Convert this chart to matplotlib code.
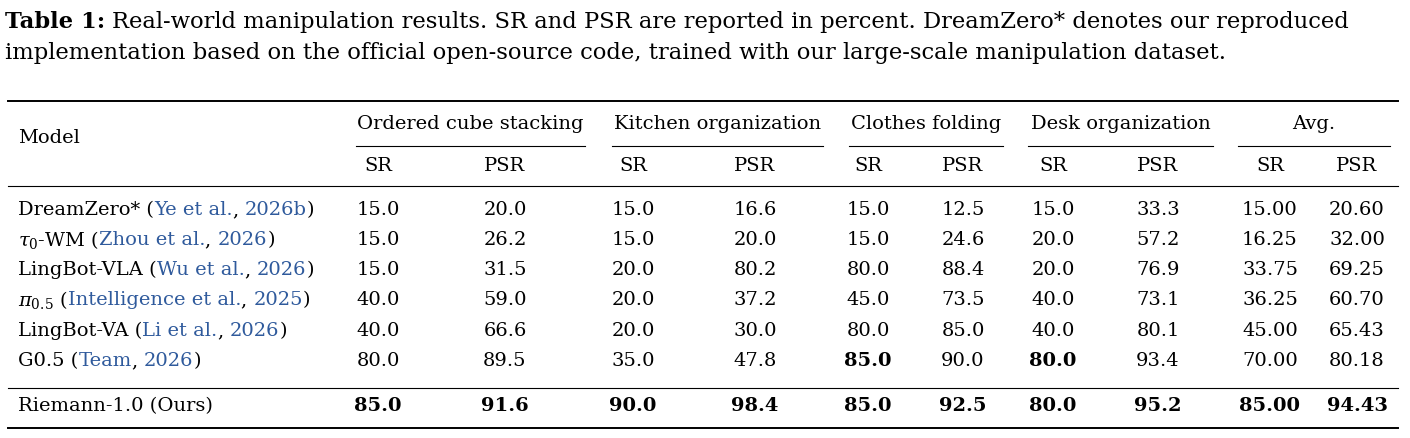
import matplotlib
matplotlib.use("Agg")
import matplotlib.pyplot as plt
plt.rcParams["mathtext.fontset"] = "dejavuserif"

models = [("DreamZero* (", "Ye et al.", ", ", "2026b", ")"),
          (r"$\tau_0$-WM (", "Zhou et al.", ", ", "2026", ")"),
          ("LingBot-VLA (", "Wu et al.", ", ", "2026", ")"),
          (r"$\pi_{0.5}$ (", "Intelligence et al.", ", ", "2025", ")"),
          ("LingBot-VA (", "Li et al.", ", ", "2026", ")"),
          ("G0.5 (", "Team", ", ", "2026", ")"),
          ("Riemann-1.0 (Ours)", "", "", "", "")]
groups = ["Ordered cube stacking", "Kitchen organization", "Clothes folding", "Desk organization", "Avg."]
values = [
    ["15.0", "20.0", "15.0", "16.6", "15.0", "12.5", "15.0", "33.3", "15.00", "20.60"],
    ["15.0", "26.2", "15.0", "20.0", "15.0", "24.6", "20.0", "57.2", "16.25", "32.00"],
    ["15.0", "31.5", "20.0", "80.2", "80.0", "88.4", "20.0", "76.9", "33.75", "69.25"],
    ["40.0", "59.0", "20.0", "37.2", "45.0", "73.5", "40.0", "73.1", "36.25", "60.70"],
    ["40.0", "66.6", "20.0", "30.0", "80.0", "85.0", "40.0", "80.1", "45.00", "65.43"],
    ["80.0", "89.5", "35.0", "47.8", "85.0", "90.0", "80.0", "93.4", "70.00", "80.18"],
    ["85.0", "91.6", "90.0", "98.4", "85.0", "92.5", "80.0", "95.2", "85.00", "94.43"],
]
bold = {(5, 4), (5, 6)} | {(6, j) for j in range(10)}
caption1 = "Real-world manipulation results. SR and PSR are reported in percent. DreamZero* denotes our reproduced"
caption2 = "implementation based on the official open-source code, trained with our large-scale manipulation dataset."

W, H = 1410, 438
fig = plt.figure(figsize=(W/100, H/100), dpi=100)
ax = fig.add_axes([0, 0, 1, 1]); ax.set_xlim(0, W); ax.set_ylim(H, 0); ax.axis("off")
FS = 14
F = "DejaVu Serif"
BLUE = "#2f5a9c"
kw = dict(fontsize=FS, family=F, va="center")
r = fig.canvas.get_renderer()

# caption
CFS = 16.3
t = ax.text(5, 22, "Table 1:", ha="left", va="center", fontsize=CFS, family=F, fontweight="bold")
x0 = 5 + t.get_window_extent(r).width + 7
ax.text(x0, 22, caption1, ha="left", va="center", fontsize=CFS, family=F)
ax.text(5, 53, caption2, ha="left", va="center", fontsize=CFS, family=F)

colx = [378, 505, 633, 755, 868, 963, 1053, 1158, 1270, 1357]
spans = [(356, 585), (612, 823), (849, 1003), (1028, 1213), (1238, 1390)]
ax.plot([8, 1398], [101, 101], color="k", lw=1.4)
for (a, b), g in zip(spans, groups):
    ax.text((a+b)/2, 124, g, ha="center", **kw)
    ax.plot([a, b], [146, 146], color="k", lw=0.8)
ax.text(18, 138, "Model", ha="left", **kw)
for j, x in enumerate(colx):
    ax.text(x, 166, "SR" if j % 2 == 0 else "PSR", ha="center", **kw)
ax.plot([8, 1398], [186, 186], color="k", lw=0.8)
ax.plot([8, 1398], [388, 388], color="k", lw=0.8)
ax.plot([8, 1398], [428, 428], color="k", lw=1.4)

rowy = [210, 240, 270, 300, 331, 361, 406]
for i, (m, y) in enumerate(zip(models, rowy)):
    x = 18
    for k, part in enumerate(m):
        if not part:
            continue
        t = ax.text(x, y, part, ha="left", color=BLUE if k in (1, 3) else "k", **kw)
        x += t.get_window_extent(r).width
    for j, x in enumerate(colx):
        ax.text(x, y, values[i][j], ha="center",
                fontweight="bold" if (i, j) in bold else "normal", **kw)

fig.savefig("out.png", dpi=100)
